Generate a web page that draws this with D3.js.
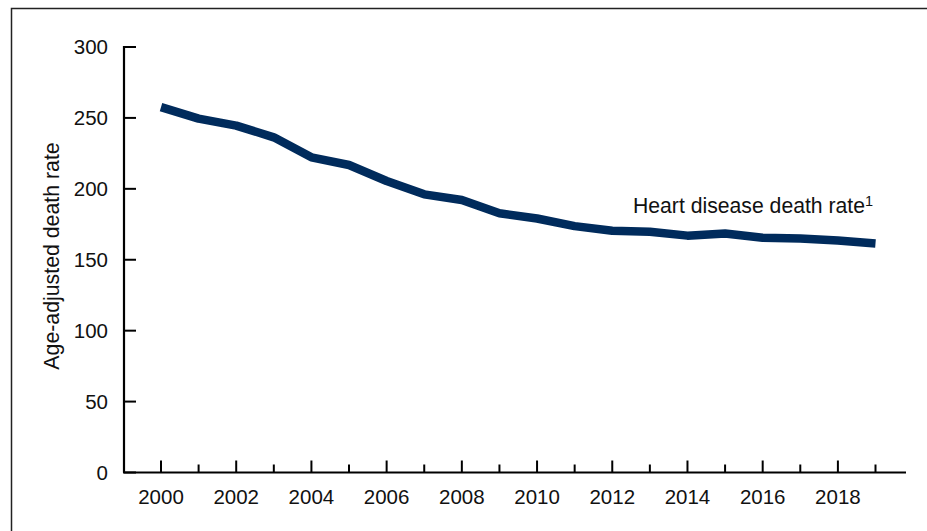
<!DOCTYPE html>
<html>
<head>
<meta charset="utf-8">
<script src="https://cdn.jsdelivr.net/npm/d3@7"></script>
<style>
  html, body { margin: 0; padding: 0; background: #fff; }
  svg { display: block; font-family: "Liberation Sans", Arial, sans-serif; }
</style>
</head>
<body>
<div id="chart"></div>
<script>
(function() {
    "use strict";

    // age-adjusted heart disease death rate, 2000-2019
    var years = [2000, 2001, 2002, 2003, 2004, 2005, 2006, 2007, 2008, 2009,
                 2010, 2011, 2012, 2013, 2014, 2015, 2016, 2017, 2018, 2019];
    var rates = [257.6, 249.5, 244.6, 236.3, 222.2, 216.8, 205.5, 196.1, 192.1, 182.8,
                 179.1, 173.7, 170.5, 169.8, 167.0, 168.5, 165.5, 165.0, 163.6, 161.5];
    var yTicks = [0, 50, 100, 150, 200, 250, 300];
    var xLabelYears = [2000, 2002, 2004, 2006, 2008, 2010, 2012, 2014, 2016, 2018];

    var width = 927, height = 531;

    var svg = d3.select("#chart").append("svg")
        .attr("width", width)
        .attr("height", height);

    // outer frame
    svg.append("rect")
        .attr("x", 11.5).attr("y", 8.5)
        .attr("width", 1000).attr("height", 600)
        .attr("fill", "none")
        .attr("stroke", "#222")
        .attr("stroke-width", 1.5);

    var axisLeftX = 124, axisRightX = 906;
    var x = d3.scaleLinear().domain([2000, 2019]).range([161, 875.5]);
    var y = d3.scaleLinear().domain([0, 300]).range([472.5, 47]);

    // y axis
    var yAxis = svg.append("g");
    yAxis.append("line")
        .attr("x1", axisLeftX).attr("x2", axisLeftX)
        .attr("y1", y(300) - 1).attr("y2", y(0))
        .attr("stroke", "#000").attr("stroke-width", 2.2);
    yAxis.selectAll(".ytick").data(yTicks).join("line")
        .attr("x1", axisLeftX).attr("x2", axisLeftX + 12)
        .attr("y1", function(d) { return y(d); })
        .attr("y2", function(d) { return y(d); })
        .attr("stroke", "#000").attr("stroke-width", 2);
    yAxis.selectAll(".ylab").data(yTicks).join("text")
        .attr("x", 108)
        .attr("y", function(d) { return y(d); })
        .attr("dy", "0.36em")
        .attr("text-anchor", "end")
        .style("font-size", "20.5px")
        .style("fill", "#111")
        .text(function(d) { return d; });

    svg.append("text")
        .attr("transform", "translate(59,256) rotate(-90)")
        .attr("text-anchor", "middle")
        .style("font-size", "21.3px")
        .style("fill", "#111")
        .text("Age-adjusted death rate");

    // x axis
    var xAxis = svg.append("g");
    xAxis.append("line")
        .attr("x1", axisLeftX - 1).attr("x2", axisRightX)
        .attr("y1", y(0)).attr("y2", y(0))
        .attr("stroke", "#000").attr("stroke-width", 2.2);
    xAxis.selectAll(".xtick").data(years).join("line")
        .attr("x1", function(d) { return x(d); })
        .attr("x2", function(d) { return x(d); })
        .attr("y1", y(0))
        .attr("y2", function(d) { return y(0) - (d % 2 === 0 ? 12 : 8); })
        .attr("stroke", "#000").attr("stroke-width", 2);
    xAxis.selectAll(".xlab").data(xLabelYears).join("text")
        .attr("x", function(d) { return x(d); })
        .attr("y", 504)
        .attr("text-anchor", "middle")
        .style("font-size", "20.5px")
        .style("fill", "#111")
        .text(function(d) { return d; });

    // series line
    var line = d3.line()
        .x(function(d, i) { return x(years[i]); })
        .y(function(d) { return y(d); });

    svg.append("path")
        .datum(rates)
        .attr("d", line)
        .attr("fill", "none")
        .attr("stroke", "#002b5c")
        .attr("stroke-width", 8.5)
        .attr("stroke-linejoin", "round");

    // annotation
    var note = svg.append("text")
        .attr("x", 633)
        .attr("y", 213)
        .style("font-size", "21.2px")
        .style("fill", "#111");
    note.append("tspan").text("Heart disease death rate");
    note.append("tspan")
        .attr("dy", "-0.5em")
        .style("font-size", "14.5px")
        .text("1");
})();
</script>
</body>
</html>
